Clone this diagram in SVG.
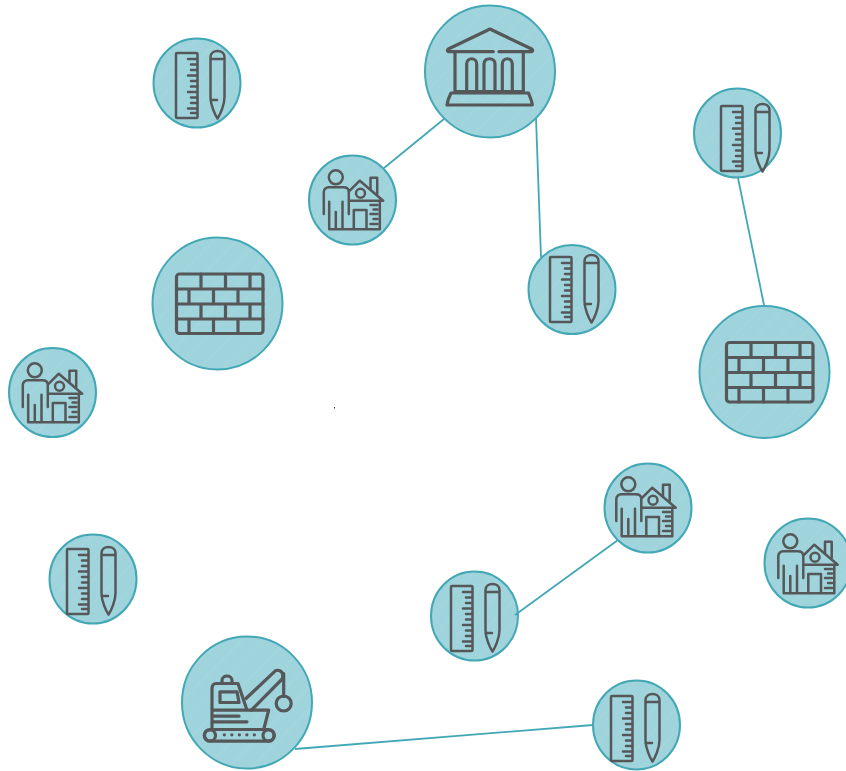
<svg xmlns="http://www.w3.org/2000/svg" xmlns:xlink="http://www.w3.org/1999/xlink" width="846" height="771" viewBox="0 0 846 771">
<style>
.bg{fill:url(#hatch);stroke:#43a8b6;stroke-width:2}
.i{fill:none;stroke:#555759;stroke-linecap:round;stroke-linejoin:round}
.i2{stroke-width:2.500}
.i3{stroke-width:3.200}
.c line{stroke:#43a8b6;stroke-width:1.800}
</style>
<defs>
<pattern id="hatch" width="16" height="16" patternUnits="userSpaceOnUse" patternTransform="rotate(45)">
<rect width="16" height="16" fill="#9fd4dc"/>
<rect width="2" height="16" fill="#a3d5dc"/>
</pattern>
<ellipse id="small" class="bg" rx="43.500" ry="44.500"/>
<ellipse id="large" class="bg" rx="65" ry="66"/>
<g id="ruler" class="i i2">
<rect x="-21" y="-30" width="21.500" height="65" rx="1"/>
<path d="M-9-24H0M-6-18.500H0M-6-13H0M-9-7.500H0M-6-2H0M-6 3.500H0M-9 9H0M-6 14.500H0M-6 20H0M-9 25.500H0M-6 30H0"/>
<path d="M13.500-26C13.500-34 27.500-34 27.500-26V14C27.500 22 23 32 20.500 35.500C18 32 13.500 22 13.500 14ZM13.500-24H27.500M13.500 17H20"/>
</g>
<g id="house" class="i i2">
<circle cx="-16.700" cy="-22.700" r="7"/>
<path d="M-28.700 14V-8C-28.700-11-26-12.700-24-12.700H-9.300C-6-12.700-3.700-11-3.700-8V14M-23.300 1.700V29.300H27.300V1M-16.700 12V29M-10 1.700V29.300M-3.700-8.300L7.300-19.300L30.700 .7H-3.700"/>
<path d="M18-11.300V-22.300H24.700V-6M1.300 29V10H14V29M18 5H25M21 9.500H25M18 14H25M21 19H25M18 24H25"/>
<circle cx="8" cy="-6.700" r="4.500"/>
</g>
<g id="inst" class="i i3">
<path d="M3.300-19.300H-41.700C-43-20-43-21-41.700-22L-2-41C-.7-42 .7-42 2-41L41.700-22C43-21 43-20 41.700-19.300H14M9-19.300H13"/>
<path d="M-35-18V20.700H33.300V-18M-23.300 20V-7C-23.300-14-13.300-14-13.300-7V20M-6 20V-7C-6-14 5-14 5-7V20M12.300 20V-7C12.300-14 22.300-14 22.300-7V20"/>
<path d="M-39 22H38.500C40 26 42 30 42.300 34H-43C-42.500 30-41 26-39 22Z"/>
</g>
<g id="brick" class="i i3">
<rect x="-43" y="-29.500" width="86.500" height="59.500" rx="3"/>
<path d="M-43-14.500H43.500M-43 .5H43.500M-43 15.500H43.500M-18.500-29.500V-14.500M6-29.500V-14.500M30.500-29.500V-14.500M-30.500-14.500V.5M-6-14.500V.5M18.500-14.500V.5M-18.500 .5V15.500M6 .5V15.500M30.500 .5V15.500M-30.500 15.500V30M-6 15.500V30M18.500 15.500V30"/>
</g>
<g id="excav" class="i i3">
<rect x="-42.700" y="27" width="70" height="11.700" rx="5.800"/>
<circle cx="-37" cy="33" r="5.500"/>
<circle cx="21.500" cy="33" r="5.500"/>
<path d="M-35 27V-14C-35-17-33-19-31-19H-9L0 7.700M0 7.700H21.700L16.700 27M-35 7.700H0M-35 13.700H-8M-35 19.300H0"/>
<path d="M-1-4L28.300-31.700C31-33 35-32 35.700-28V-24L4.300 7.700"/>
<path d="M36.700-29V-6M-25-19V-22C-25-28-15-28-15-22V-19M-27-10.700H-10L-8 0H-27Z"/>
<circle cx="36.700" cy="1" r="7.500"/>
<path d="M-22.700 32.300h.1M-15.200 32.300h.1M-7.700 32.300h.1M-.2 32.300h.1M7.300 32.300h.1"/>
</g>
</defs>
<g id="n1"><use href="#small" x="197" y="83"/><use href="#ruler" x="197" y="83"/></g>
<g id="n2"><use href="#large" x="490" y="71.500"/><use href="#inst" x="490" y="71"/></g>
<g id="n3"><use href="#small" x="352.500" y="200"/><use href="#house" x="352.500" y="200"/></g>
<g id="n4"><use href="#small" x="737.500" y="133"/><use href="#ruler" x="742" y="136"/></g>
<g id="n5"><use href="#small" x="572" y="289.500"/><use href="#ruler" x="571" y="287"/></g>
<g id="n6"><use href="#large" x="217.500" y="303.500"/><use href="#brick" x="219.500" y="303.500"/></g>
<g id="n7"><use href="#large" x="764.500" y="372"/><use href="#brick" x="769.500" y="372"/></g>
<g id="n8"><use href="#small" x="52.500" y="392.500"/><use href="#house" x="51.500" y="393"/></g>
<g id="n9"><use href="#small" x="648" y="508"/><use href="#house" x="645" y="507"/></g>
<g id="n10"><use href="#small" x="808" y="563"/><use href="#house" x="807" y="564"/></g>
<g id="n11"><use href="#small" x="93" y="579"/><use href="#ruler" x="88" y="579"/></g>
<g id="n12"><use href="#small" x="474.500" y="616"/><use href="#ruler" x="472" y="616"/></g>
<g id="n13"><use href="#small" x="636.500" y="725"/><use href="#ruler" x="632" y="726"/></g>
<g id="n14"><use href="#large" x="247" y="702.500"/><use href="#excav" x="247" y="702.500"/></g>
<g id="connectors" class="c">
<line x1="384" y1="168" x2="444" y2="119"/>
<line x1="536" y1="118" x2="541" y2="257"/>
<line x1="738" y1="178" x2="764" y2="305"/>
<line x1="515" y1="615" x2="618" y2="540"/>
<line x1="295" y1="749" x2="593" y2="725"/>
</g>
<rect x="334" y="407" width="1" height="1.500" fill="#333"/>
</svg>
